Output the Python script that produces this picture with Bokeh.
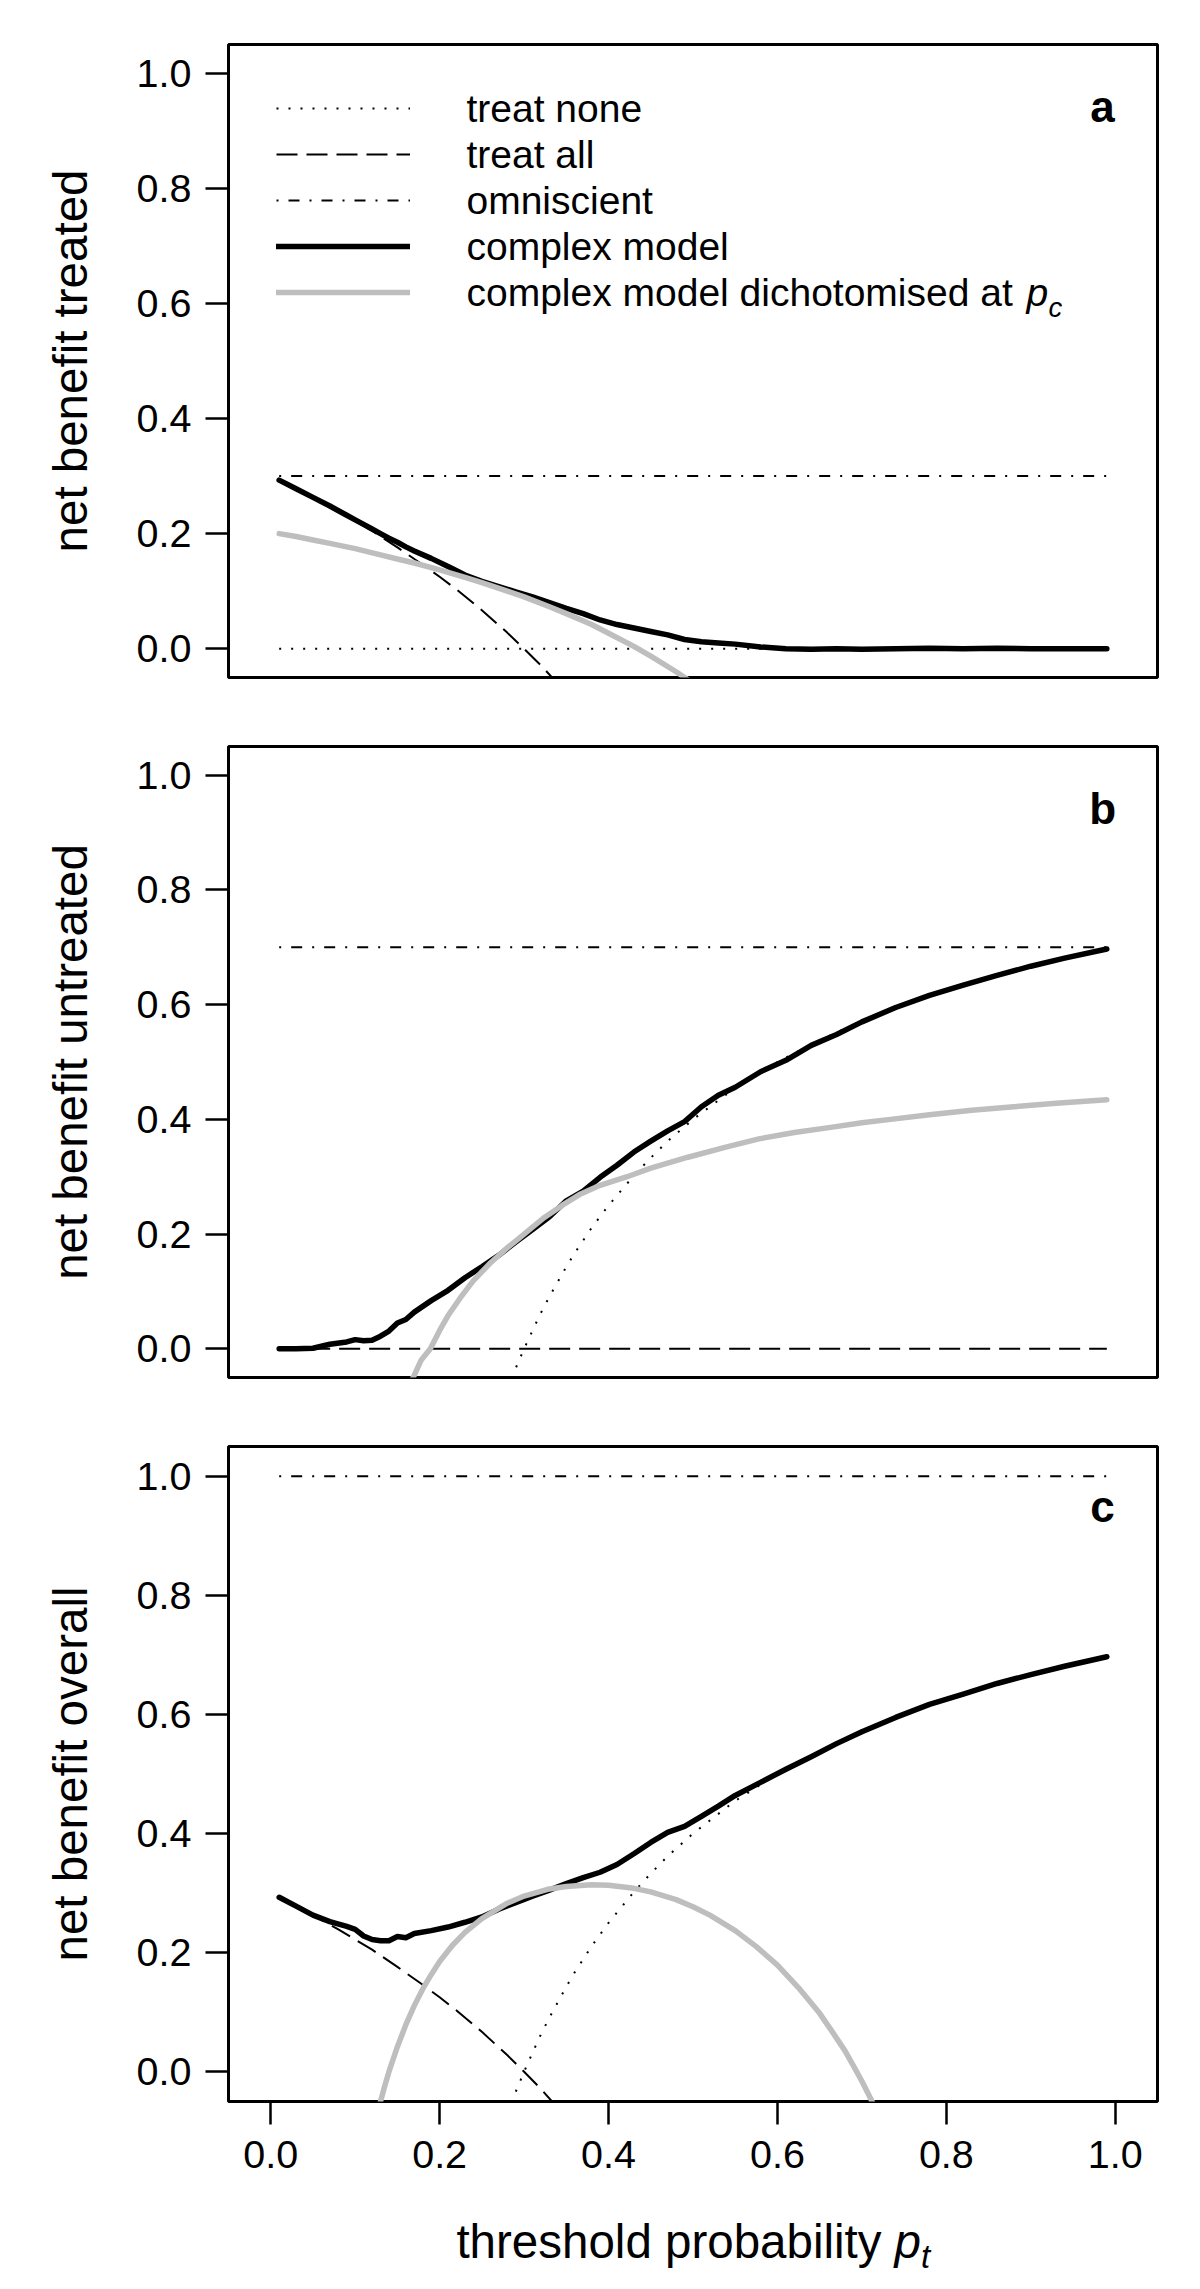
from bokeh.plotting import figure
from bokeh.layouts import column
from bokeh.models import Range1d, FixedTicker, Label, Legend, LegendItem, PrintfTickFormatter
from bokeh.embed import file_html
from bokeh.resources import INLINE

# ---------------- data ----------------
y_ticks = [0.0, 0.2, 0.4, 0.6, 0.8, 1.0]
x_ticks = [0.0, 0.2, 0.4, 0.6, 0.8, 1.0]
x_const = [0.01, 0.99]

omni_a = [0.3, 0.3]
omni_b = [0.7, 0.7]
omni_c = [1.0, 1.0]
zero_line = [0.0, 0.0]

x_treat_all = [0.01, 0.03, 0.05, 0.08, 0.10, 0.12, 0.15, 0.18, 0.20, 0.22, 0.25, 0.28, 0.30, 0.32, 0.335]
y_treat_all = [0.293, 0.278, 0.263, 0.239, 0.222, 0.205, 0.176, 0.146, 0.125, 0.103, 0.067, 0.028, 0.0, -0.029, -0.053]

x_treat_none = [0.28, 0.29, 0.30, 0.31, 0.32, 0.33, 0.35, 0.36, 0.38, 0.40, 0.43, 0.45, 0.47, 0.50,
                0.55, 0.60, 0.65, 0.70, 0.75, 0.80, 0.85, 0.90, 0.95, 0.99]
y_treat_none = [-0.071, -0.034, 0.0, 0.032, 0.063, 0.091, 0.143, 0.167, 0.211, 0.250, 0.302, 0.333, 0.362, 0.400,
                0.455, 0.500, 0.538, 0.571, 0.600, 0.625, 0.647, 0.667, 0.684, 0.697]

x_model = [0.01, 0.03, 0.05, 0.07, 0.09, 0.10, 0.11, 0.12, 0.13, 0.14, 0.15, 0.16, 0.17, 0.19, 0.21,
           0.23, 0.25, 0.27, 0.29, 0.31, 0.33, 0.35, 0.37, 0.39, 0.41, 0.43, 0.45, 0.47, 0.49, 0.51,
           0.53, 0.55, 0.58, 0.61, 0.64, 0.67, 0.70, 0.74, 0.78, 0.82, 0.86, 0.90, 0.94, 0.99]
model_treated = [0.293, 0.278, 0.263, 0.248, 0.232, 0.224, 0.216, 0.208, 0.200, 0.192, 0.185, 0.177, 0.170,
                 0.157, 0.143, 0.128, 0.117, 0.108, 0.099, 0.090, 0.080, 0.070, 0.061, 0.050, 0.042, 0.036,
                 0.030, 0.024, 0.016, 0.012, 0.010, 0.008, 0.003, 0.000, -0.001, 0.000, -0.001, 0.000,
                 0.001, 0.000, 0.001, 0.000, 0.000, 0.000]
model_untreated = [0.0, 0.0, 0.001, 0.008, 0.012, 0.016, 0.014, 0.015, 0.022, 0.031, 0.045, 0.051, 0.064,
                   0.084, 0.102, 0.124, 0.143, 0.163, 0.186, 0.208, 0.230, 0.258, 0.275, 0.299, 0.320,
                   0.343, 0.362, 0.380, 0.396, 0.422, 0.442, 0.456, 0.483, 0.503, 0.529, 0.548, 0.570,
                   0.595, 0.616, 0.634, 0.651, 0.667, 0.681, 0.697]
model_overall = [0.293, 0.278, 0.263, 0.252, 0.244, 0.239, 0.228, 0.222, 0.220, 0.220, 0.227, 0.225, 0.232,
                 0.237, 0.243, 0.251, 0.260, 0.273, 0.284, 0.295, 0.305, 0.316, 0.326, 0.335, 0.348,
                 0.366, 0.385, 0.402, 0.412, 0.429, 0.446, 0.464, 0.486, 0.508, 0.529, 0.551, 0.571,
                 0.595, 0.617, 0.634, 0.652, 0.667, 0.681, 0.697]

x_dich_a = [0.01, 0.03, 0.05, 0.07, 0.10, 0.13, 0.15, 0.17, 0.20, 0.23, 0.25, 0.28, 0.30, 0.33, 0.35,
            0.38, 0.40, 0.43, 0.45, 0.48, 0.50]
dich_treated = [0.200, 0.195, 0.189, 0.183, 0.174, 0.163, 0.156, 0.149, 0.137, 0.124, 0.115, 0.100, 0.090,
                0.073, 0.061, 0.042, 0.027, 0.004, -0.013, -0.040, -0.060]
x_dich_b = [0.16, 0.165, 0.17, 0.178, 0.189, 0.20, 0.21, 0.225, 0.24, 0.261, 0.28, 0.295, 0.31, 0.324,
            0.345, 0.367, 0.39, 0.422, 0.45, 0.494, 0.54, 0.578, 0.62, 0.663, 0.70, 0.734, 0.78, 0.83,
            0.88, 0.93, 0.99]
dich_untreated = [-0.080, -0.060, -0.046, -0.020, 0.000, 0.032, 0.058, 0.090, 0.119, 0.151, 0.176, 0.194,
                  0.212, 0.229, 0.250, 0.270, 0.285, 0.300, 0.315, 0.334, 0.352, 0.366, 0.377, 0.386,
                  0.394, 0.400, 0.408, 0.416, 0.422, 0.428, 0.434]
x_dich_c = [0.13, 0.135, 0.14, 0.15, 0.16, 0.17, 0.18, 0.19, 0.20, 0.215, 0.23, 0.25, 0.28, 0.30, 0.33,
            0.35, 0.38, 0.40, 0.43, 0.45, 0.48, 0.50, 0.52, 0.55, 0.575, 0.60, 0.625, 0.65, 0.665,
            0.68, 0.69, 0.70, 0.71, 0.72]
dich_overall = [-0.050, -0.024, 0.000, 0.042, 0.079, 0.111, 0.139, 0.163, 0.185, 0.212, 0.234, 0.257,
                0.283, 0.295, 0.307, 0.311, 0.314, 0.313, 0.308, 0.302, 0.289, 0.277, 0.263, 0.237,
                0.210, 0.179, 0.141, 0.098, 0.067, 0.035, 0.010, -0.016, -0.044, -0.075]

y_titles = ["net benefit treated", "net benefit untreated", "net benefit overall"]
panel_tags = ["a", "b", "c"]
legend_labels = ["treat none", "treat all", "omniscient", "complex model", "complex model dichotomised at"]
x_title = "threshold probability"

# ---------------- styling ----------------
FONT = "Liberation Sans"
TICK_FS = "39.5px"
LEG_FS = "39px"
LAB_FS = "47.5px"
GREY = "#bebebe"
DOT = "2 10"
DASH = "21 9"
DOTDASH = "2 10 11 10"
THIN = 2.0
THICK = 5.5
W = 1192
BL, BR = 228, 35


def make_panel(height, top, bottom, with_x, ytitle, tag, tag_y):
    p = figure(width=W, height=height, output_backend="svg", toolbar_location=None,
               x_range=Range1d(-0.05, 1.05), y_range=Range1d(-0.05, 1.05),
               x_axis_location="below" if with_x else None,
               min_border_left=BL, min_border_right=BR, min_border_top=top, min_border_bottom=bottom)
    p.xgrid.visible = False
    p.ygrid.visible = False
    p.outline_line_color = "black"
    p.outline_line_width = 3
    p.background_fill_color = "white"
    p.border_fill_color = "white"
    axes = list(p.yaxis) + (list(p.xaxis) if with_x else [])
    for ax in axes:
        ax.axis_line_color = None
        ax.major_tick_out = 23
        ax.major_tick_in = 0
        ax.minor_tick_line_color = None
        ax.major_tick_line_width = 2.5
        ax.major_tick_line_color = "black"
        ax.major_label_text_font = FONT
        ax.major_label_text_font_size = TICK_FS
        ax.major_label_text_color = "black"
        ax.formatter = PrintfTickFormatter(format="%.1f")
    p.yaxis.ticker = FixedTicker(ticks=y_ticks)
    p.yaxis.major_label_standoff = 14
    p.yaxis.major_label_orientation = "horizontal"
    p.yaxis.axis_label = ytitle
    p.yaxis.axis_label_text_font = FONT
    p.yaxis.axis_label_text_font_size = LAB_FS
    p.yaxis.axis_label_text_font_style = "normal"
    p.yaxis.axis_label_text_color = "black"
    p.yaxis.axis_label_standoff = 37
    if with_x:
        p.xaxis.ticker = FixedTicker(ticks=x_ticks)
        p.xaxis.major_label_standoff = 16
    p.add_layout(Label(x=0.985, y=tag_y, text=tag, text_align="center", text_baseline="alphabetic",
                       text_font=FONT, text_font_size="44px", text_font_style="bold", text_color="black"))
    return p


pa = make_panel(711, 44, 34, False, y_titles[0], panel_tags[0], 0.942)
pb = make_panel(700, 35, 34, False, y_titles[1], panel_tags[1], 0.942)
pc = make_panel(780, 35, 90, True, y_titles[2], panel_tags[2], 0.950)

# panel a
ra_none = pa.line(x_const, zero_line, line_color="black", line_width=THIN, line_dash=DOT)
ra_all = pa.line(x_treat_all, y_treat_all, line_color="black", line_width=THIN, line_dash=DASH)
ra_omni = pa.line(x_const, omni_a, line_color="black", line_width=THIN, line_dash=DOTDASH)
ra_model = pa.line(x_model, model_treated, line_color="black", line_width=THICK, line_join="round", line_cap="round")
ra_dich = pa.line(x_dich_a, dich_treated, line_color=GREY, line_width=THICK, line_join="round", line_cap="round")

# panel b
pb.line(x_treat_none, y_treat_none, line_color="black", line_width=THIN, line_dash=DOT)
pb.line(x_const, zero_line, line_color="black", line_width=THIN, line_dash=DASH)
pb.line(x_const, omni_b, line_color="black", line_width=THIN, line_dash=DOTDASH)
pb.line(x_model, model_untreated, line_color="black", line_width=THICK, line_join="round", line_cap="round")
pb.line(x_dich_b, dich_untreated, line_color=GREY, line_width=THICK, line_join="round", line_cap="round")

# panel c
pc.line(x_treat_none, y_treat_none, line_color="black", line_width=THIN, line_dash=DOT)
pc.line(x_treat_all, y_treat_all, line_color="black", line_width=THIN, line_dash=DASH)
pc.line(x_const, omni_c, line_color="black", line_width=THIN, line_dash=DOTDASH)
pc.line(x_model, model_overall, line_color="black", line_width=THICK, line_join="round", line_cap="round")
pc.line(x_dich_c, dich_overall, line_color=GREY, line_width=THICK, line_join="round", line_cap="round")

# legend keys (panel a); texts are placed as labels next to them
ROW = 46
legend = Legend(items=[LegendItem(label=" ", renderers=[r]) for r in [ra_none, ra_all, ra_omni, ra_model, ra_dich]],
                location=(48, 362), orientation="vertical",
                glyph_width=134, glyph_height=ROW, label_height=ROW, label_standoff=0, label_width=1,
                spacing=0, padding=0, margin=0,
                label_text_font=FONT, label_text_font_size="1px",
                border_line_color=None, background_fill_alpha=0)
pa.add_layout(legend, "center")
first_row = 633 - 63.7
for i, txt in enumerate(legend_labels):
    pa.add_layout(Label(x=238, y=first_row - ROW * i, x_units="screen", y_units="screen", text=txt,
                        text_font=FONT, text_font_size=LEG_FS, text_baseline="middle",
                        text_align="left", text_color="black"))
pa.add_layout(Label(x=798, y=first_row - ROW * 4, x_units="screen", y_units="screen", text="p",
                    text_font=FONT, text_font_size=LEG_FS, text_font_style="italic",
                    text_baseline="middle", text_align="left", text_color="black"))
pa.add_layout(Label(x=820, y=first_row - ROW * 4 - 15, x_units="screen", y_units="screen", text="c",
                    text_font=FONT, text_font_size="27.5px", text_font_style="italic",
                    text_baseline="alphabetic", text_align="left", text_color="black"))

# x axis title (own strip below panel c so it is not clipped)
pl = figure(width=W, height=98, output_backend="svg", toolbar_location=None,
            x_range=Range1d(0, 1), y_range=Range1d(0, 1), x_axis_location=None, y_axis_location=None,
            min_border_left=BL, min_border_right=BR, min_border_top=0, min_border_bottom=0)
pl.outline_line_color = None
pl.xgrid.visible = False
pl.ygrid.visible = False
pl.add_layout(Label(x=653, y=48, x_units="screen", y_units="screen", text=x_title,
                    text_font=FONT, text_font_size=LAB_FS, text_baseline="alphabetic",
                    text_align="right", text_color="black"))
pl.add_layout(Label(x=666, y=48, x_units="screen", y_units="screen", text="p",
                    text_font=FONT, text_font_size=LAB_FS, text_font_style="italic",
                    text_baseline="alphabetic", text_align="left", text_color="black"))
pl.add_layout(Label(x=692.4, y=33, x_units="screen", y_units="screen", text="t",
                    text_font=FONT, text_font_size="33px", text_font_style="italic",
                    text_baseline="alphabetic", text_align="left", text_color="black"))

layout = column(pa, pb, pc, pl, spacing=0)
open("out.html", "w").write(file_html(layout, INLINE))
